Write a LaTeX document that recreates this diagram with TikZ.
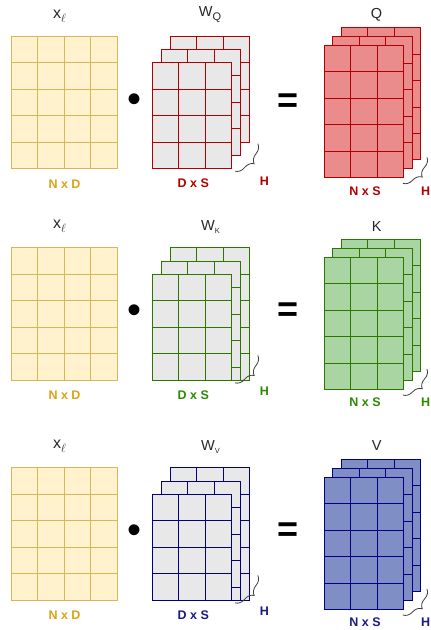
\documentclass[tikz,border=0pt]{standalone}
\usepackage{fontspec}
\setmainfont{Liberation Sans}
\usetikzlibrary{decorations.pathreplacing}
\definecolor{yfill}{HTML}{FFF2CC}
\definecolor{ydraw}{HTML}{D6B656}
\definecolor{ytext}{HTML}{DCA414}
\definecolor{gfill}{HTML}{E8E8E8}
\definecolor{rdraw}{HTML}{B20000}
\definecolor{rfill}{HTML}{EA8C8C}
\definecolor{rtext}{HTML}{B20000}
\definecolor{kdraw}{HTML}{2D7600}
\definecolor{kfill}{HTML}{A8D5A2}
\definecolor{ktext}{HTML}{2D8A00}
\definecolor{bdraw}{HTML}{000080}
\definecolor{bfill}{HTML}{7F8FC6}
\definecolor{btext}{HTML}{1A1A80}
\newcommand\mymat[7]{%
  \begin{scope}[shift={(#2,#3)}]
    \node[matbox,fill=#6,draw=#7,minimum width=#4pt,minimum height=#5pt] (#1) at (0,0) {};
    \pgfmathtruncatemacro\nc{(#4-1)/26.5}
    \pgfmathtruncatemacro\nr{(#5-1)/26.5}
    \foreach \k in {1,...,\nc} \draw[#7,gridline] (\k*26.5,0) -- (\k*26.5,#5);
    \foreach \k in {1,...,\nr} \draw[#7,gridline] (0,\k*26.5) -- (#4,\k*26.5);
  \end{scope}}
\newcommand\xlab{x\raisebox{-4.4pt}{\fontsize{13}{13}\selectfont$\ell$}}
\begin{document}
\begin{tikzpicture}[x=1pt,y=-1pt,
  matbox/.style={rectangle,anchor=north west,inner sep=0pt,outer sep=0pt,line width=0.9pt},
  gridline/.style={line width=0.9pt},
  lbl/.style={font=\fontsize{14.5}{16}\selectfont,text=black!85,inner sep=0pt,anchor=base},
  xlbl/.style={font=\fontsize{16}{16}\selectfont,text=black!85,inner sep=0pt,anchor=base},
  dimlbl/.style={font=\bfseries\fontsize{12.5}{14}\selectfont,inner sep=0pt},
  hlbl/.style={font=\bfseries\fontsize{12.5}{14}\selectfont,inner sep=0pt},
  brc/.style={decorate,decoration={brace,amplitude=10pt},draw=black!75,line width=0.8pt},
  opdot/.style={inner sep=0pt,font=\fontsize{40}{40}\selectfont},
  opeq/.style={inner sep=0pt,font=\bfseries\fontsize{36}{36}\selectfont}
]
\useasboundingbox[fill=white] (0,0) rectangle (431,630);

% ---------- Row 1 (Q) ----------
\mymat{xb1}{11.3}{36}{106}{132.5}{yfill}{ydraw}
\mymat{wb1}{170}{36}{79.5}{106}{gfill}{rdraw}
\mymat{wm1}{161}{49.3}{79.5}{106}{gfill}{rdraw}
\mymat{wf1}{152.3}{62.7}{79.5}{106}{gfill}{rdraw}
\mymat{qb1}{341.3}{27.7}{79.5}{132}{rfill}{rdraw}
\mymat{qm1}{332.6}{36.5}{79.5}{132}{rfill}{rdraw}
\mymat{qf1}{324}{45.3}{79.5}{132}{rfill}{rdraw}
\node[xlbl] (xl1) at (59.5,18.3) {\xlab};
\node[dimlbl,text=ytext] (nd1) at (64.5,184.2) {N x D};
\node[opdot] (dot1) at (134.5,103) {•};
\node[lbl] (wl1) at (210,16.7) {W\raisebox{-4pt}{\fontsize{11}{11}\selectfont Q}};
\node[dimlbl,text=rtext] (ds1) at (193.3,182.8) {D x S};
\coordinate (wbr1a) at ([shift={(26,-25)}]wf1.south east);
\coordinate (wbr1b) at ([shift={(3.3,2.5)}]wf1.south east);
\draw[brc] (wbr1a) -- (wbr1b);
\node[hlbl,text=rtext] (hw1) at (264.5,181) {H};
\node[opeq] (eq1) at (288,103) {=};
\node[lbl] (ql1) at (376.5,18.3) {Q};
\node[dimlbl,text=rtext] (ns1) at (365,191.3) {N x S};
\coordinate (qbr1a) at ([shift={(23.4,-20)}]qf1.south east);
\coordinate (qbr1b) at ([shift={(-0.6,6)}]qf1.south east);
\draw[brc] (qbr1a) -- (qbr1b);
\node[hlbl,text=rtext,anchor=west] (hq1) at (421,191.3) {H};

% ---------- Row 2 (K) ----------
\mymat{xb2}{11.3}{247.7}{106}{132.5}{yfill}{ydraw}
\mymat{wb2}{170}{247.7}{79.5}{132.7}{gfill}{kdraw}
\mymat{wm2}{161}{261}{79.5}{119.4}{gfill}{kdraw}
\mymat{wf2}{152.3}{274.4}{79.5}{106}{gfill}{kdraw}
\mymat{qb2}{341.3}{239.4}{79.5}{132}{kfill}{kdraw}
\mymat{qm2}{332.6}{248.2}{79.5}{132}{kfill}{kdraw}
\mymat{qf2}{324}{257}{79.5}{132}{kfill}{kdraw}
\node[xlbl] (xl2) at (59.5,228.3) {\xlab};
\node[dimlbl,text=ytext] (nd2) at (64.5,395.3) {N x D};
\node[opdot] (dot2) at (134.5,314.4) {•};
\node[lbl] (wl2) at (210.5,230) {W\raisebox{-3pt}{\fontsize{7.5}{8}\selectfont K}};
\node[dimlbl,text=ktext] (ds2) at (193.3,395) {D x S};
\coordinate (wbr2a) at ([shift={(26,-25)}]wf2.south east);
\coordinate (wbr2b) at ([shift={(3.3,2.5)}]wf2.south east);
\draw[brc] (wbr2a) -- (wbr2b);
\node[hlbl,text=ktext] (hw2) at (264.5,391.3) {H};
\node[opeq] (eq2) at (288,312.2) {=};
\node[lbl] (ql2) at (376.7,231.7) {K};
\node[dimlbl,text=ktext] (ns2) at (365,402.2) {N x S};
\coordinate (qbr2a) at ([shift={(23.4,-20)}]qf2.south east);
\coordinate (qbr2b) at ([shift={(-0.6,6)}]qf2.south east);
\draw[brc] (qbr2a) -- (qbr2b);
\node[hlbl,text=ktext,anchor=west] (hq2) at (421,402.2) {H};

% ---------- Row 3 (V) ----------
\mymat{xb3}{11.3}{467.7}{106}{132.5}{yfill}{ydraw}
\mymat{wb3}{170}{467.7}{79.5}{132.7}{gfill}{bdraw}
\mymat{wm3}{161}{481}{79.5}{119.4}{gfill}{bdraw}
\mymat{wf3}{152.3}{494.4}{79.5}{106}{gfill}{bdraw}
\mymat{qb3}{341.3}{459.4}{79.5}{132}{bfill}{bdraw}
\mymat{qm3}{332.6}{468.2}{79.5}{132}{bfill}{bdraw}
\mymat{qf3}{324}{477}{79.5}{132}{bfill}{bdraw}
\node[xlbl] (xl3) at (59.5,448.3) {\xlab};
\node[dimlbl,text=ytext] (nd3) at (64.5,615.3) {N x D};
\node[opdot] (dot3) at (134.5,534) {•};
\node[lbl] (wl3) at (210.5,450.7) {W\raisebox{-3pt}{\fontsize{7.5}{8}\selectfont V}};
\node[dimlbl,text=btext] (ds3) at (193.3,614.7) {D x S};
\coordinate (wbr3a) at ([shift={(26,-25)}]wf3.south east);
\coordinate (wbr3b) at ([shift={(3.3,2.5)}]wf3.south east);
\draw[brc] (wbr3a) -- (wbr3b);
\node[hlbl,text=btext] (hw3) at (264.5,611.3) {H};
\node[opeq] (eq3) at (288,532.2) {=};
\node[lbl] (ql3) at (376.7,450.7) {V};
\node[dimlbl,text=btext] (ns3) at (365,622.2) {N x S};
\coordinate (qbr3a) at ([shift={(23.4,-20)}]qf3.south east);
\coordinate (qbr3b) at ([shift={(-0.6,6)}]qf3.south east);
\draw[brc] (qbr3a) -- (qbr3b);
\node[hlbl,text=btext,anchor=west] (hq3) at (421,622.2) {H};
\end{tikzpicture}
\end{document}
